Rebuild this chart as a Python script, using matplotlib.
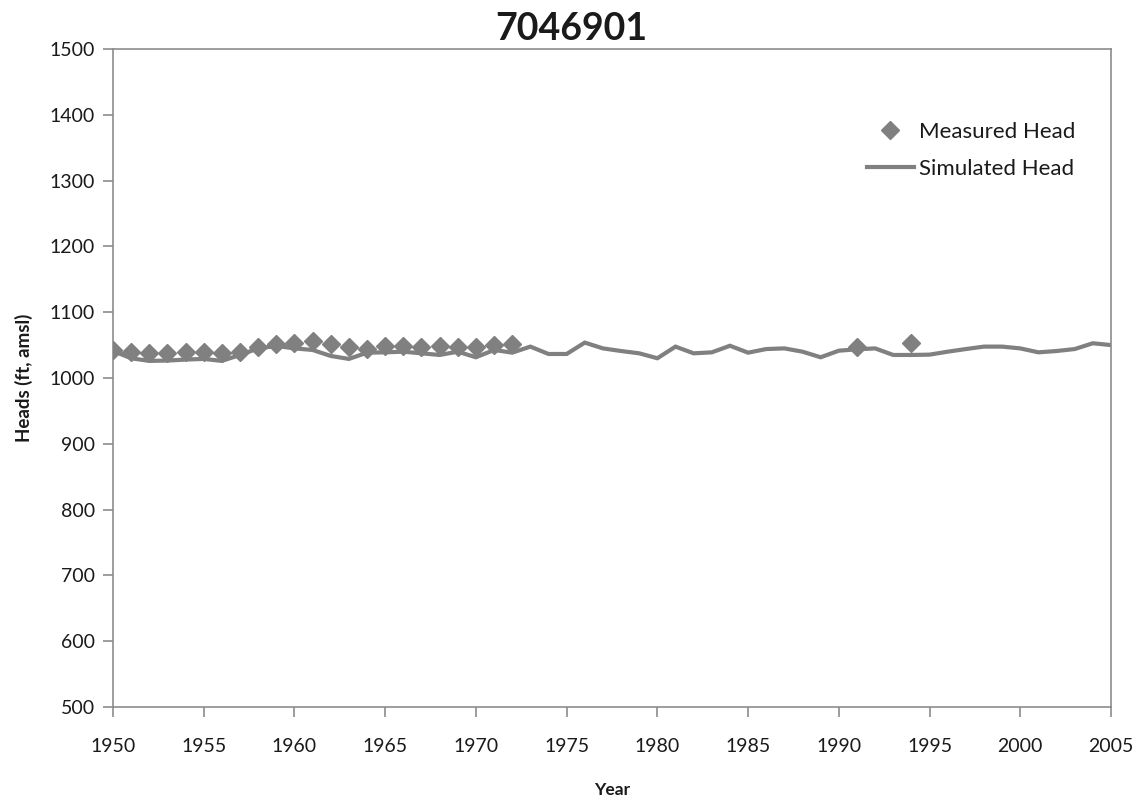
import matplotlib
matplotlib.use("Agg")
import matplotlib.pyplot as plt
from matplotlib.lines import Line2D

plt.rcParams['font.family'] = ['Lato', 'DejaVu Sans']

# Measured head (diamond markers)
meas_years = [1950, 1951, 1952, 1953, 1954, 1955, 1956, 1957, 1958, 1959,
              1960, 1961, 1962, 1963, 1964, 1965, 1966, 1967, 1968, 1969,
              1970, 1971, 1972, 1991, 1994]
meas_vals = [1042.6, 1040, 1038.5, 1038.5, 1039, 1039, 1037.5, 1040, 1046.7, 1051.7,
             1052.8, 1056.8, 1051.3, 1047.7, 1043.6, 1048.7, 1048.7, 1046.7, 1048.5, 1047,
             1047, 1050, 1052, 1047.7, 1052.8]

# Simulated head (line)
sim_years = list(range(1950, 2006))
sim_vals = [1041, 1030, 1026, 1026.5, 1028, 1029, 1026, 1035, 1045, 1048.7,
            1045, 1042.6, 1033.5, 1029, 1038.5, 1039, 1040, 1037.5, 1035, 1040,
            1031.5, 1042.6, 1038.5, 1047.7, 1036.5, 1036.5, 1053.8, 1045, 1041, 1037.5,
            1030, 1047.7, 1037.5, 1039, 1049, 1038.5, 1044, 1045, 1040, 1031.5,
            1041.5, 1043.6, 1045, 1035, 1035, 1035.5, 1040, 1044, 1047.7, 1047.7,
            1045, 1039, 1041, 1044, 1052.8, 1050]

x_ticks = list(range(1950, 2006, 5))
y_ticks = list(range(500, 1501, 100))

gray = '#808080'
spine_gray = '#8c8c8c'
text_col = '#1a1a1a'

fig = plt.figure(figsize=(11.43, 8.08), dpi=100)
ax = fig.add_axes([113/1143, 1 - 707/808, (1111-113)/1143, (707-49)/808])

ax.plot(sim_years, sim_vals, color=gray, lw=3.0, solid_joinstyle='miter', zorder=2)
ax.plot(meas_years, meas_vals, linestyle='none', marker='D', markersize=9.5,
        color=gray, markeredgecolor=gray, zorder=3)

ax.set_xlim(1950, 2005)
ax.set_ylim(500, 1500)
ax.set_xticks(x_ticks)
ax.set_yticks(y_ticks)
ax.tick_params(axis='both', direction='out', length=7, width=1.2, color=spine_gray,
               labelsize=14, labelcolor=text_col)
ax.tick_params(axis='x', pad=15)
ax.tick_params(axis='y', pad=6)
for s in ax.spines.values():
    s.set_color(spine_gray)
    s.set_linewidth(1.2)

fig.text(0.5, 1 - 29/808, '7046901', fontsize=27, fontweight='bold', color=text_col,
         ha='center', va='center')
ax.set_ylabel('Heads (ft, amsl)', fontsize=13.5, fontweight='bold', color=text_col, labelpad=12)
ax.set_xlabel('Year', fontsize=12.5, fontweight='bold', color=text_col, labelpad=20)

handles = [Line2D([], [], linestyle='none', marker='D', markersize=9, color=gray),
           Line2D([], [], color=gray, lw=3.0)]
leg = ax.legend(handles, ['Measured Head', 'Simulated Head'], loc='upper left',
                bbox_to_anchor=(867/1143, 1 - 122/808), bbox_transform=fig.transFigure,
                frameon=False, fontsize=16, borderpad=0, borderaxespad=0,
                handlelength=2.1, handletextpad=0.25, labelspacing=0.75)
for t in leg.get_texts():
    t.set_color(text_col)

fig.savefig('out.png', dpi=100)
